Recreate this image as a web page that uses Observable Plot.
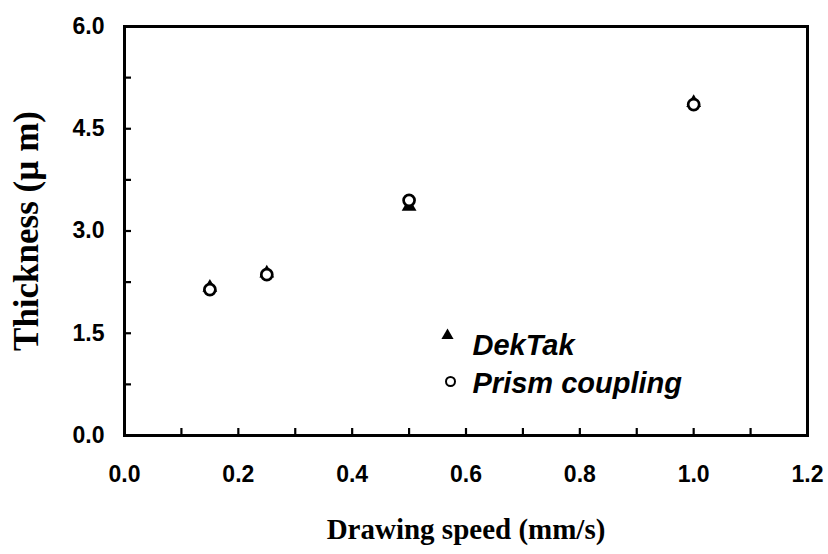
<!DOCTYPE html>
<html>
<head>
<meta charset="utf-8">
<script src="https://cdn.jsdelivr.net/npm/d3@7"></script>
<script src="https://cdn.jsdelivr.net/npm/@observablehq/plot@0.6"></script>
<style>
  html, body { margin: 0; padding: 0; background: #fff; }
  #chart { width: 828px; height: 554px; }
</style>
</head>
<body>
<div id="chart"></div>
<script>
const speed = [0.15, 0.25, 0.5, 1.0];
const dektak = [2.17, 2.38, 3.36, 4.88];
const prism = [2.14, 2.36, 3.45, 4.855];
const xMajorTicks = [0, 0.2, 0.4, 0.6, 0.8, 1.0, 1.2];
const xMinorTicks = [0.1, 0.2, 0.3, 0.4, 0.5, 0.6, 0.7, 0.8, 0.9, 1.0, 1.1];
const yMajorTicks = [0, 1.5, 3.0, 4.5, 6.0];
const yMinorTicks = [0.75, 1.5, 2.25, 3.0, 3.75, 4.5, 5.25];
const xTitle = "Drawing speed (mm/s)";
const yTitle = "Thickness (\u00b5 m)";
const legendLabels = ["DekTak", "Prism coupling"];

const dekData = speed.map((s, i) => ({speed: s, value: dektak[i]}));
const prismData = speed.map((s, i) => ({speed: s, value: prism[i]}));

const tickFont = "Liberation Sans, Arial, sans-serif";
const titleFont = "Liberation Serif, Times New Roman, serif";
const fmt = d3.format(".1f");

const chart = Plot.plot({
  width: 828,
  height: 554,
  marginLeft: 124,
  marginRight: 21,
  marginTop: 26,
  marginBottom: 119,
  style: {fontFamily: tickFont, color: "#000", background: "#fff", overflow: "visible"},
  x: {domain: [0, 1.2]},
  y: {domain: [0, 6]},
  marks: [
    Plot.axisX({ticks: xMinorTicks, tickSize: -7, strokeWidth: 2.2, text: null, label: null}),
    Plot.axisY({ticks: yMinorTicks, tickSize: -7, strokeWidth: 2.2, text: null, label: null}),
    // tick labels
    Plot.text(xMajorTicks, {x: d => d, frameAnchor: "bottom", dy: 46, text: d => fmt(d),
      fontSize: 23, fontWeight: "bold", fill: "#000", fontFamily: tickFont}),
    Plot.text(yMajorTicks, {y: d => d, frameAnchor: "left", dx: -20, textAnchor: "end", text: d => fmt(d),
      fontSize: 23, fontWeight: "bold", fill: "#000", fontFamily: tickFont}),
    Plot.frame({stroke: "#000", strokeWidth: 3}),
    Plot.dot(dekData, {x: "speed", y: "value", symbol: "triangle", r: 5.5, fill: "#000", stroke: "none"}),
    Plot.dot(prismData, {x: "speed", y: "value", symbol: "circle", r: 5.5, fill: "#fff", stroke: "#000", strokeWidth: 2.7}),
    // legend
    Plot.dot([legendLabels[0]], {frameAnchor: "top-left", dx: 323, dy: 309, symbol: "triangle", r: 4.5, fill: "#000", stroke: "none"}),
    Plot.dot([legendLabels[1]], {frameAnchor: "top-left", dx: 326, dy: 355, symbol: "circle", r: 4.5, fill: "#fff", stroke: "#000", strokeWidth: 2}),
    Plot.text([legendLabels[0]], {text: d => d, frameAnchor: "top-left", dx: 348, dy: 308, textAnchor: "start",
      fontSize: 29, fontWeight: "bold", fontStyle: "italic", fill: "#000", fontFamily: tickFont}),
    Plot.text([legendLabels[1]], {text: d => d, frameAnchor: "top-left", dx: 348, dy: 346, textAnchor: "start",
      fontSize: 29, fontWeight: "bold", fontStyle: "italic", fill: "#000", fontFamily: tickFont}),
    // axis titles
    Plot.text([xTitle], {text: d => d, frameAnchor: "bottom", dy: 103, fontSize: 29, fontWeight: "bold",
      fill: "#000", fontFamily: titleFont}),
    Plot.text([yTitle], {text: d => d, frameAnchor: "left", textAnchor: "middle", dx: -98, rotate: -90, fontSize: 35, fontWeight: "bold",
      fill: "#000", fontFamily: titleFont})
  ]
});
document.getElementById("chart").appendChild(chart);
</script>
</body>
</html>
